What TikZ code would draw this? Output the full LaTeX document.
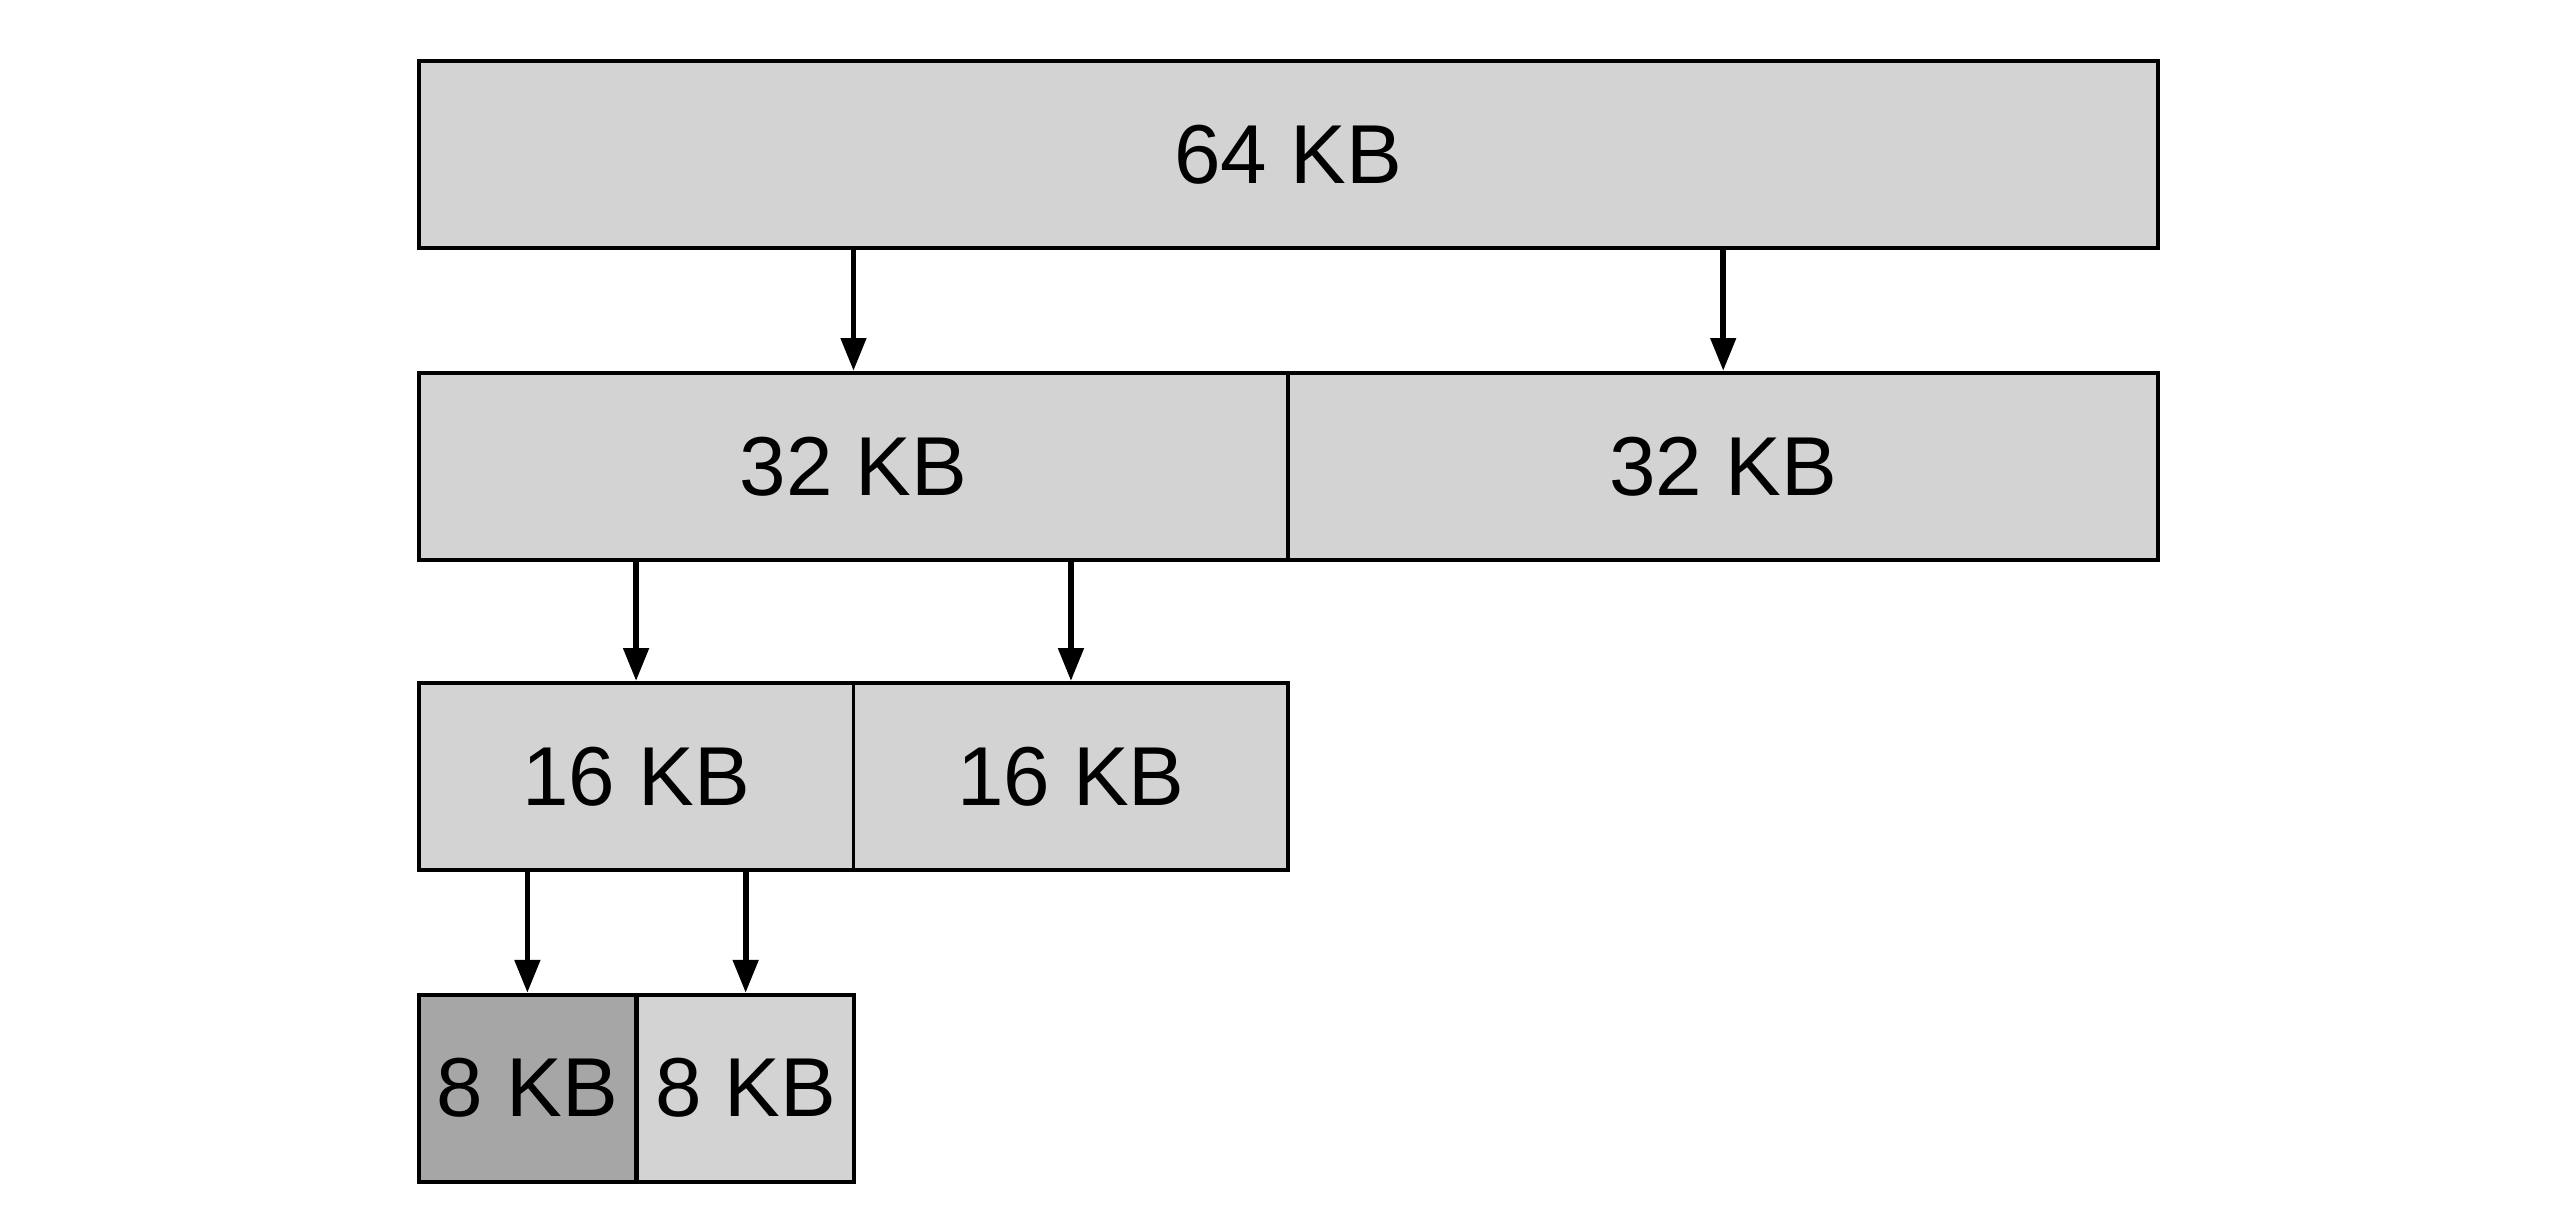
\documentclass[tikz,border=0pt]{standalone}
\usepackage{fontspec}
\setmainfont{Liberation Sans}
\usetikzlibrary{arrows.meta, positioning}
\definecolor{blocklight}{HTML}{D3D3D3}
\definecolor{blockdark}{HTML}{A6A6A6}
\tikzset{
    block/.style={draw=black, line width=1.3pt, fill=blocklight, minimum height=2.28cm, inner sep=0pt, font=\fontsize{29}{34}\selectfont, anchor=north west},
    split/.style={-{Triangle[length=0.4cm, width=0.3cm]}, line width=2pt}
}
\begin{document}
\begin{tikzpicture}[x=0.02cm, y=-0.02cm]
    \useasboundingbox (0,0) rectangle (1560,742);
    % Blocks
    \node[block, minimum width=21.2cm] (b64) at (254,36) {64 KB};
    \node[block, minimum width=10.6cm] (b32a) at (254,226) {32 KB};
    \node[block, minimum width=10.6cm] (b32b) at (784,226) {32 KB};
    \node[block, minimum width=5.3cm] (b16a) at (254,415) {16 KB};
    \node[block, minimum width=5.3cm] (b16b) at (519,415) {16 KB};
    \node[block, minimum width=2.65cm, fill=blockdark] (b8a) at (254,605) {8 KB};
    \node[block, minimum width=2.65cm] (b8b) at (387,605) {8 KB};
    % Splits
    \draw[split] (b32a.north |- b64.south) -- (b32a.north);
    \draw[split] (b32b.north |- b64.south) -- (b32b.north);
    \draw[split] (b16a.north |- b32a.south) -- (b16a.north);
    \draw[split] (b16b.north |- b32a.south) -- (b16b.north);
    \draw[split] (b8a.north |- b16a.south) -- (b8a.north);
    \draw[split] (b8b.north |- b16a.south) -- (b8b.north);
\end{tikzpicture}
\end{document}
